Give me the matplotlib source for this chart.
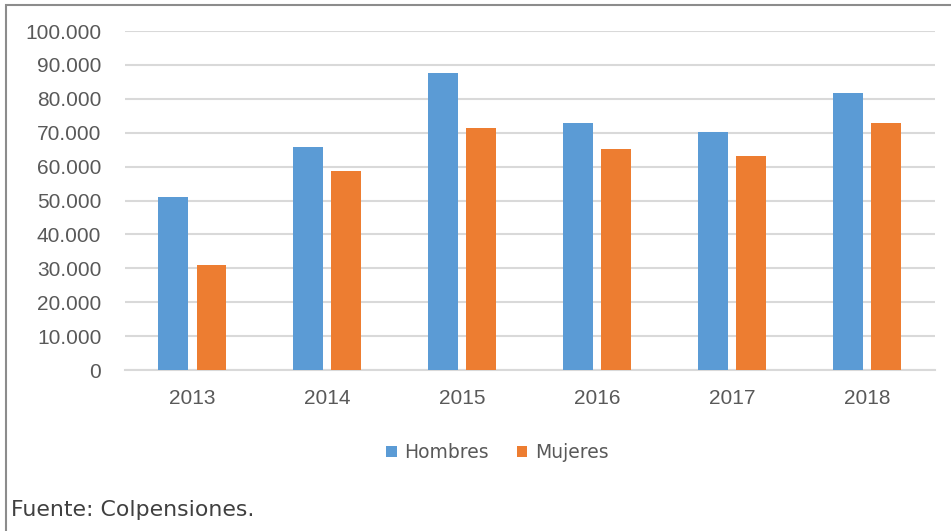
#=========================================================================
# plot.py
#=========================================================================
# Hombres / Mujeres por año (Colpensiones), barras agrupadas.

import matplotlib
matplotlib.use('Agg')
import matplotlib.pyplot as plt
from matplotlib.patches import Rectangle
from matplotlib.ticker import FuncFormatter
import numpy as np

#-------------------------------------------------------------------------
# Data
#-------------------------------------------------------------------------

years    = ['2013', '2014', '2015', '2016', '2017', '2018']
hombres  = [51100, 65900, 87600, 72900, 70100, 81600]
mujeres  = [31000, 58800, 71300, 65300, 63100, 72900]
y_ticks  = np.arange(0, 100001, 10000)

#-------------------------------------------------------------------------
# Configure matplotlib
#-------------------------------------------------------------------------

plt.rcParams['font.family'] = ['Liberation Sans', 'DejaVu Sans']
text_color = '#595959'
blue   = '#5b9bd5'
orange = '#ed7d31'

fig = plt.figure(figsize=(9.51, 5.31), dpi=100)
ax = fig.add_axes([0.1314, 0.3032, 0.8516, 0.6384])

#-------------------------------------------------------------------------
# Create plot
#-------------------------------------------------------------------------

ind   = np.arange(len(years))
width = 0.222
off   = 0.141

ax.bar(ind - off, hombres, width, color=blue, label='Hombres', zorder=3)
ax.bar(ind + off, mujeres, width, color=orange, label='Mujeres', zorder=3)

ax.set_xlim(-0.5, len(years) - 0.5)
ax.set_ylim(0, 100000)
ax.set_yticks(y_ticks)
ax.yaxis.set_major_formatter(
  FuncFormatter(lambda v, p: '{:,.0f}'.format(v).replace(',', '.')))
ax.set_xticks(ind)
ax.set_xticklabels(years)

ax.grid(axis='y', color='#d9d9d9', linewidth=1.5, zorder=0)
for s in ['top', 'right', 'left']:
  ax.spines[s].set_visible(False)
ax.spines['bottom'].set_color('#d9d9d9')
ax.spines['bottom'].set_linewidth(1.5)
ax.tick_params(axis='both', length=0, labelsize=15, colors=text_color)
ax.tick_params(axis='y', pad=17)
ax.tick_params(axis='x', pad=14)

leg = fig.legend(loc='center', bbox_to_anchor=(0.523, 0.148), ncol=2,
                 frameon=False, prop={'family': 'DejaVu Sans', 'size': 13.5},
                 handlelength=0.55, handleheight=0.55, columnspacing=1.5,
                 handletextpad=0.4)
for t in leg.get_texts():
  t.set_color(text_color)

fig.text(0.012, 0.020, 'Fuente: Colpensiones.', fontsize=15.8,
         family='DejaVu Sans', color='#404040', ha='left', va='bottom')

# Outer frame
fig.patches.append(Rectangle((0.0065, -0.01), 1.2, 1.0,
                             transform=fig.transFigure, fill=False,
                             edgecolor='#8c8c8c', linewidth=1.5))

#-------------------------------------------------------------------------
# Save
#-------------------------------------------------------------------------

fig.savefig('out.png', dpi=100)
